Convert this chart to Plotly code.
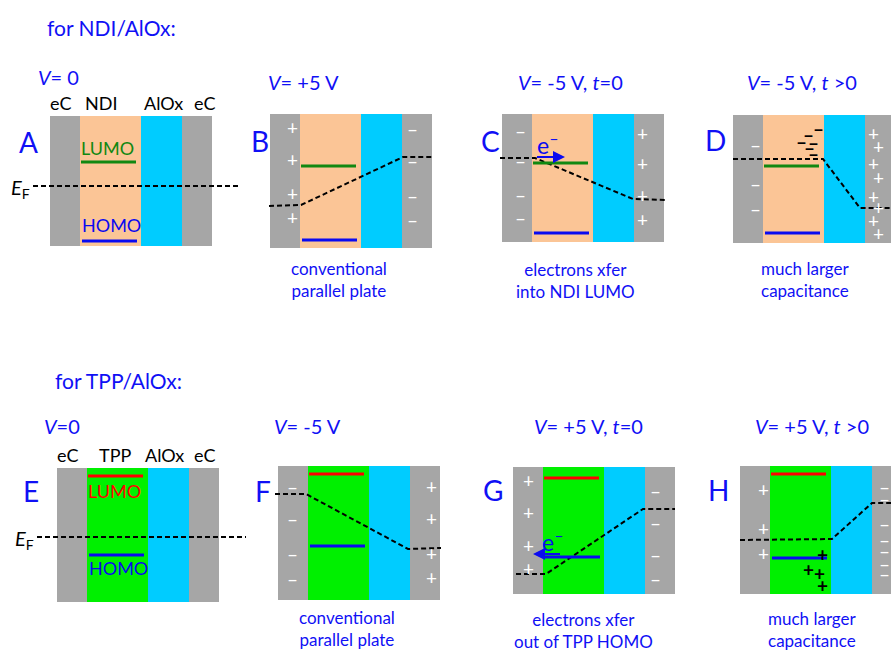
import plotly.graph_objects as go

# ---- content -------------------------------------------------------------
row_titles = ["for NDI/AlOx:", "for TPP/AlOx:"]
organic = ["NDI", "TPP"]
organic_fill = ["#FBC596", "#00F000"]
lumo_color = ["#118811", "#FF0000"]
homo_color = "#0A0AF0"

panel_letters = ["A", "B", "C", "D", "E", "F", "G", "H"]
voltage_text = [
    "<i>V</i>= 0", "<i>V</i>= +5 V", "<i>V</i>= -5 V, <i>t</i>=0", "<i>V</i>= -5 V, <i>t</i> >0",
    "<i>V</i>=0", "<i>V</i>= -5 V", "<i>V</i>= +5 V, <i>t</i>=0", "<i>V</i>= +5 V, <i>t</i> >0",
]
captions = [
    None, "conventional<br>parallel plate", "electrons xfer<br>into NDI LUMO", "much larger<br>capacitance",
    None, "conventional<br>parallel plate", "electrons xfer<br>out of TPP HOMO", "much larger<br>capacitance",
]

# energy levels (y, downward = lower energy) for each panel
lumo_level = [162, 166, 163, 166, 476, 474, 478, 474]
homo_level = [241, 240, 233, 233, 555, 546, 557, 558]

# Fermi-level profile across the stack: (x, y) vertices
fermi_profile = [
    [(33, 186), (238, 186)],
    [(269, 206), (301, 205), (403, 157), (434, 157)],
    [(500, 158), (535, 158), (633, 199), (667, 200)],
    [(733, 159), (823, 159), (860, 208), (891, 208)],
    [(37, 537), (246, 537)],
    [(275, 494), (306, 494), (408, 549), (441, 548)],
    [(516, 574), (546, 574), (643, 509), (675, 509)],
    [(740, 540), (832, 539), (872, 503), (891, 503)],
]

# surface charges on the electrodes: (x, y, sign)
electrode_charges = [
    [],
    [(292, 127, "+"), (292, 159, "+"), (292, 193, "+"), (292, 217, "+"),
     (412, 128, "-"), (412, 160, "-"), (412, 195, "-"), (412, 219, "-")],
    [(520, 130, "-"), (520, 160, "-"), (520, 194, "-"), (520, 217, "-"),
     (642, 133, "+"), (642, 163, "+"), (642, 195, "+"), (642, 219, "+")],
    [(755, 144, "-"), (755, 183, "-"), (755, 208, "-"),
     (873, 133, "+"), (878, 146, "+"), (873, 163, "+"), (878, 177, "+"),
     (873, 196, "+"), (878, 207, "+"), (873, 220, "+"), (878, 233, "+")],
    [],
    [(292, 486, "-"), (292, 518, "-"), (292, 553, "-"), (292, 578, "-"),
     (431, 486, "+"), (431, 518, "+"), (431, 553, "+"), (431, 577, "+")],
    [(528, 480, "+"), (528, 512, "+"), (528, 545, "+"), (528, 568, "+"),
     (655, 490, "-"), (655, 522, "-"), (655, 554, "-"), (655, 578, "-")],
    [(763, 489, "+"), (763, 528, "+"), (763, 553, "+"),
     (884, 486, "-"), (884, 498, "-"), (884, 523, "-"), (884, 539, "-"),
     (884, 550, "-"), (884, 563, "-"), (884, 573, "-")],
]

# charges stored inside the organic layer
trapped_charges = [
    [], [], [],
    [(818, 128, "-"), (808, 134, "-"), (801, 141, "-"), (813, 142, "-"),
     (809, 147, "-"), (813, 153, "-")],
    [], [], [],
    [(822, 554, "+"), (808, 569, "+"), (819, 573, "+"), (822, 585, "+")],
]

# ---- layout geometry -----------------------------------------------------
# panel box: left x, top y, bottom y
panel_box = [
    (50, 116, 246), (270, 114, 248), (502, 114, 242), (733, 115, 243),
    (57, 468, 602), (278, 466, 600), (513, 467, 594), (740, 466, 594),
]
layer_widths = [30, 61, 41, 30]
gray = "#A6A6A6"
cyan = "#00CCFF"
blue_txt = "#1010F5"
FONT = "Lato, 'Open Sans', sans-serif"

letter_pos = [(28, 142), (260, 141), (490, 141), (715, 140),
              (31, 491), (263, 491), (493, 490), (718, 490)]
voltage_pos = [(58, 77), (303, 82), (570, 82), (802, 82),
               (62, 426), (307, 426), (588, 426), (812, 426)]
caption_pos = [None, (339, 279), (575, 280), (805, 279),
               None, (347, 628), (583, 630), (812, 629)]
title_pos = [(45, 27), (53, 380)]
layer_label_x = [[60, 101, 163, 204], [67, 115, 164, 204]]

fig = go.Figure()
shapes = []
ann = []


def text(x, y, s, size, color, xanchor="center", **kw):
    ann.append(dict(x=x, y=y, xref="x", yref="y", text=s, showarrow=False,
                    xanchor=xanchor, yanchor="middle",
                    font=dict(family=FONT, size=size, color=color), **kw))


for r, title in enumerate(row_titles):
    text(title_pos[r][0], title_pos[r][1], title, 21, blue_txt, xanchor="left")

for i in range(8):
    row = i // 4
    x0, top, bot = panel_box[i]
    fills = [gray, organic_fill[row], cyan, gray]
    edges = [x0]
    for w in layer_widths:
        edges.append(edges[-1] + w)
    for k in range(4):
        shapes.append(dict(type="rect", xref="x", yref="y",
                           x0=edges[k], x1=edges[k + 1], y0=top, y1=bot,
                           fillcolor=fills[k], line=dict(width=0), layer="below"))

    # molecular orbital levels
    ol, orr = edges[1], edges[2]
    shapes.append(dict(type="line", xref="x", yref="y", x0=ol + 1, x1=orr - 5,
                       y0=lumo_level[i], y1=lumo_level[i],
                       line=dict(color=lumo_color[row], width=3)))
    shapes.append(dict(type="line", xref="x", yref="y", x0=ol + 2, x1=orr - 4,
                       y0=homo_level[i], y1=homo_level[i],
                       line=dict(color=homo_color, width=3)))

    # Fermi level
    px = [p[0] for p in fermi_profile[i]]
    py = [p[1] for p in fermi_profile[i]]
    fig.add_trace(go.Scatter(x=px, y=py, mode="lines", hoverinfo="skip",
                             line=dict(color="black", width=2, dash="5px,3px")))

    # electrode and stored charges
    for (cx, cy, s) in electrode_charges[i]:
        text(cx, cy, "+" if s == "+" else "–", 19, "white")
    for (cx, cy, s) in trapped_charges[i]:
        text(cx, cy, "<b>+</b>" if s == "+" else "<b>–</b>", 19, "black")

    lx, ly = letter_pos[i]
    text(lx, ly, panel_letters[i], 28, blue_txt)
    vx, vy = voltage_pos[i]
    text(vx, vy, voltage_text[i], 20, blue_txt)
    if captions[i]:
        cx, cy = caption_pos[i]
        text(cx, cy, captions[i], 17, blue_txt)

    # zero-bias panels carry layer names and orbital labels
    if i % 4 == 0:
        names = ["eC", organic[row], "AlOx", "eC"]
        ny = top - 13
        for k in range(4):
            text(layer_label_x[row][k], ny, names[k], 18, "black")
        if row == 0:
            text((ol + orr) / 2 - 3, lumo_level[i] - 14, "LUMO", 18, lumo_color[row])
            text((ol + orr) / 2 + 1, homo_level[i] - 16, "HOMO", 18, homo_color)
        else:
            text((ol + orr) / 2 - 3, lumo_level[i] + 15, "LUMO", 18, lumo_color[row])
            text((ol + orr) / 2 + 1, homo_level[i] + 13, "HOMO", 18, homo_color)
        ex, ey = fermi_profile[i][0]
        text(ex - 1, ey + 2, "<i>E</i><sub>F</sub>", 20, "black", xanchor="right")

# electron transfer arrows
arrows = [(2, 534, 157, 565, 157), (6, 563, 554, 533, 554)]
for (i, xs, ys, xe, ye) in arrows:
    ann.append(dict(x=xe, y=ye, ax=xs, ay=ys, xref="x", yref="y", axref="x", ayref="y",
                    showarrow=True, arrowhead=2, arrowsize=1.2, arrowwidth=2,
                    arrowcolor=homo_color, text=" "))
    text((xs + xe) / 2 - 2 + (0 if i == 2 else 7), ys - 14, "e<sup>–</sup>", 23, homo_color)

fig.update_layout(
    width=891, height=650, margin=dict(l=0, r=0, t=0, b=0),
    paper_bgcolor="white", plot_bgcolor="white", showlegend=False,
    xaxis=dict(range=[0, 891], visible=False, fixedrange=True),
    yaxis=dict(range=[650, 0], visible=False, fixedrange=True),
    shapes=shapes, annotations=ann,
)
fig.write_html("out.html")
